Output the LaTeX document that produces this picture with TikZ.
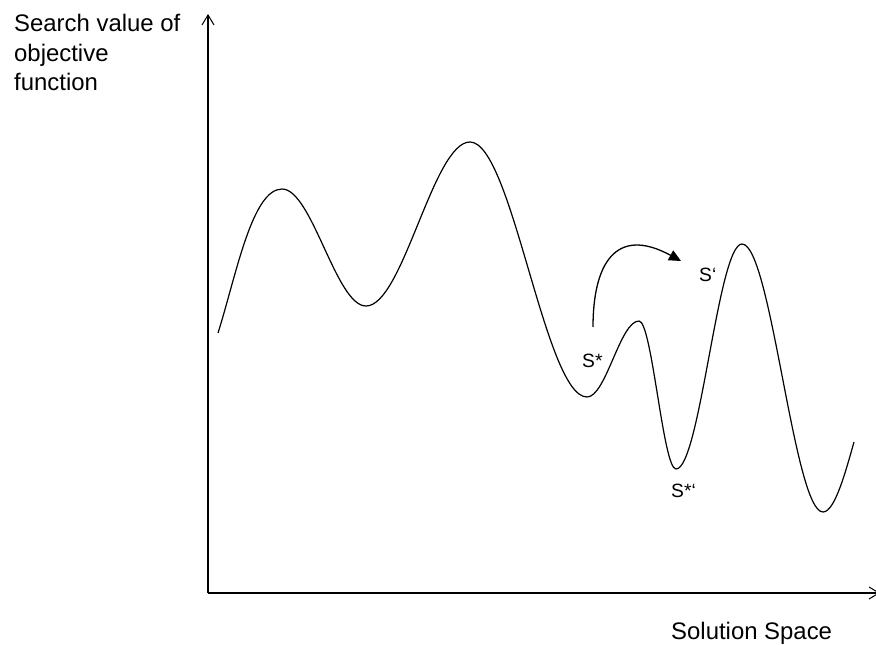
\documentclass[tikz,border=0pt]{standalone}
\usepackage{fontspec}
\setmainfont{Liberation Sans}
\usetikzlibrary{arrows.meta}
\begin{document}
\begin{tikzpicture}[x=1bp,y=-1bp,
  axis/.style={line width=1.1bp,-{Straight Barb[length=10bp,width=12bp,line width=1bp]}},
  curve/.style={line width=1.2bp},
  jump/.style={line width=1.3bp,-{Triangle[length=12bp,width=11bp]}},
  axlabel/.style={inner sep=0pt,anchor=base west,font=\fontsize{24}{29}\selectfont},
  slabel/.style={inner sep=0pt,anchor=base west,font=\fontsize{19.3}{23}\selectfont}]
\useasboundingbox (0,0) rectangle (876,645);
\coordinate (O) at (208,593);
\coordinate (Ytop) at (208,14);
\coordinate (Xend) at (880,593);
\draw[axis] (O) -- (Ytop);
\draw[axis] (O) -- (Xend);
\node[axlabel] (yl1) at (14,32) {Search value of};
\node[axlabel] (yl2) at (14,62) {objective};
\node[axlabel] (yl3) at (14,91) {function};
\node[axlabel] (xl) at (671,639) {Solution Space};
\draw[curve] (218,333) .. controls (236,276) and (252,189) .. (282,189)
  .. controls (312,189) and (336,306) .. (366,306)
  .. controls (403,306) and (433,142) .. (470,142)
  .. controls (512,142) and (545,397) .. (587,397)
  .. controls (606,397) and (620,321) .. (639,321)
  .. controls (652,321) and (663,469) .. (676,469)
  .. controls (700,469) and (718,244) .. (742,244)
  .. controls (771,244) and (794,512) .. (823,512)
  .. controls (835,512) and (846,470) .. (854,442);
\coordinate (js) at (593,327);
\coordinate (je) at (681,261);
\draw[jump] (js) .. controls (593,265) and (615,225) .. (je);
\node[slabel] (s1) at (582,367) {S*};
\node[slabel] (s2) at (699,281) {S‘};
\node[slabel] (s3) at (671,497) {S*‘};
\end{tikzpicture}
\end{document}
